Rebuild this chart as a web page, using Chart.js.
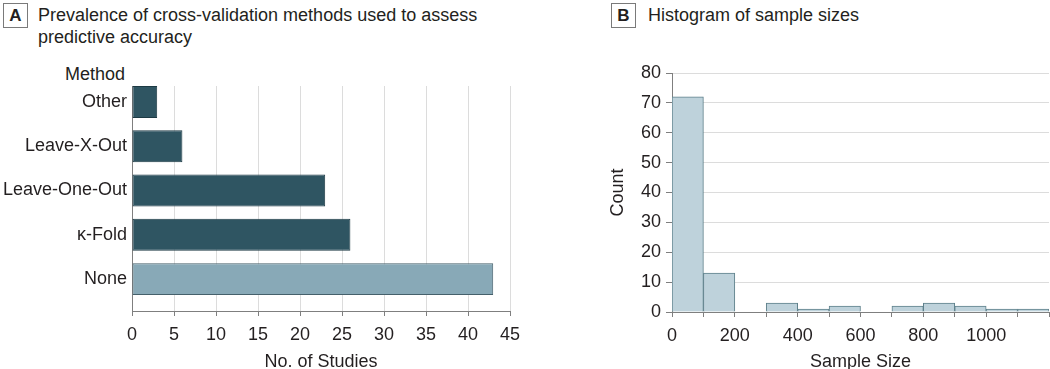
<!DOCTYPE html>
<html>
<head>
<meta charset="utf-8">
<script src="https://cdn.jsdelivr.net/npm/chart.js@4.4.1/dist/chart.umd.min.js"></script>
<style>
  html, body { margin: 0; padding: 0; background: #fff; overflow: hidden; }
  body { width: 1050px; height: 369px; position: relative; font-family: "Liberation Sans", Arial, sans-serif; color: #231f20; }
  .box { position: absolute; top: 3px; width: 23px; height: 23px; border: 1px solid #7a7a7a; font-weight: bold; font-size: 17px; line-height: 23px; text-align: center; }
  .ttl { position: absolute; top: 4px; font-size: 18px; line-height: 22px; white-space: nowrap; }
  #methodLabel { position: absolute; left: 0; width: 125px; top: 63px; font-size: 18px; line-height: 22px; text-align: right; }
  canvas { position: absolute; top: 0; }
</style>
</head>
<body>
<div class="box" style="left:3px">A</div>
<div class="ttl" style="left:38px">Prevalence of cross-validation methods used to assess<br>predictive accuracy</div>
<div class="box" style="left:611px">B</div>
<div class="ttl" style="left:648px">Histogram of sample sizes</div>
<div id="methodLabel">Method</div>

<canvas id="methodChart" width="530" height="376" style="left:0"></canvas>
<canvas id="sizeChart" width="520" height="376" style="left:530px"></canvas>

<script>
// panel A: cross-validation method (bottom to top)
const methods = ['None', 'κ-Fold', 'Leave-One-Out', 'Leave-X-Out', 'Other'];
const studies = [43, 26, 23, 6, 3];

// panel B: histogram of sample sizes, bins of 100
const binStart = [0, 100, 200, 300, 400, 500, 600, 700, 800, 900, 1000, 1100];
const binCount = [72, 13, 0, 3, 1, 2, 0, 2, 3, 2, 1, 1];
const binWidth = 100;

const CANVAS_H = 376;
const axisGrey = '#7f7f7f';
const gridGrey = '#dcdcdc';

Chart.defaults.font.family = '"Liberation Sans", Arial, sans-serif';
Chart.defaults.font.size = 18;
Chart.defaults.color = '#231f20';

// stop the x axes from reserving extra room for their end labels
const noSidePadding = s => { s.paddingLeft = 0; s.paddingRight = 0; };

new Chart('methodChart', {
  type: 'bar',
  data: {
    datasets: [{
      data: studies.map((v, i) => ({ x: v, y: i })),
      backgroundColor: methods.map(m => m === 'None' ? '#88a9b7' : '#2f5562'),
      borderColor: methods.map(m => m === 'None' ? '#45606b' : '#1d3a44'),
      borderWidth: 1,
      borderSkipped: false,
      barPercentage: 0.9,
      categoryPercentage: 0.8
    }]
  },
  options: {
    indexAxis: 'y',
    responsive: false,
    animation: false,
    layout: { padding: { top: 86, right: 20, left: 0, bottom: 0 } },
    plugins: { legend: { display: false }, tooltip: { enabled: false } },
    scales: {
      x: {
        type: 'linear',
        min: 0,
        max: 45,
        ticks: { stepSize: 5, padding: 8 },
        grid: { color: gridGrey, tickColor: axisGrey, tickLength: 5 },
        border: { color: axisGrey },
        title: { display: true, text: 'No. of Studies', font: { lineHeight: 1.2 }, padding: { top: 0, bottom: 3.5 } },
        afterFit: s => { s.height = CANVAS_H - 311; }
      },
      y: {
        type: 'linear',
        offset: false,
        min: -0.72,
        max: 4.36,
        afterBuildTicks: s => { s.ticks = methods.map((m, i) => ({ value: i })); },
        ticks: { autoSkip: false, padding: 5, callback: v => methods[v] ?? '' },
        grid: { display: false, drawTicks: false, offset: false },
        border: { display: true, color: axisGrey },
        afterFit: s => { s.width = 132; }
      }
    }
  }
});

new Chart('sizeChart', {
  type: 'bar',
  data: {
    datasets: [{
      data: binStart.map((s, i) => ({ x: s + binWidth / 2, y: binCount[i] })),
      backgroundColor: '#bed2db',
      borderColor: '#5e808b',
      borderWidth: 1,
      barPercentage: 1,
      categoryPercentage: 1
    }]
  },
  options: {
    responsive: false,
    animation: false,
    layout: { padding: { top: 73, right: 1, left: 0, bottom: 0 } },
    plugins: { legend: { display: false }, tooltip: { enabled: false } },
    scales: {
      x: {
        type: 'linear',
        offset: false,
        min: 0,
        max: 1200,
        ticks: {
          stepSize: 100, padding: 8, autoSkip: false, maxRotation: 0,
          callback: v => (v % 200 === 0 && v < 1200) ? String(v) : ''
        },
        grid: { drawOnChartArea: false, offset: false, tickColor: axisGrey, tickLength: 5 },
        border: { color: axisGrey },
        title: { display: true, text: 'Sample Size', font: { lineHeight: 1.2 }, padding: { top: 0, bottom: 3.5 } },
        afterFit: s => { s.height = CANVAS_H - 312; noSidePadding(s); }
      },
      y: {
        min: 0,
        max: 80,
        ticks: { stepSize: 10, padding: 5 },
        grid: { color: gridGrey, tickColor: axisGrey, tickLength: 6 },
        border: { color: axisGrey },
        title: { display: true, text: 'Count', font: { lineHeight: 1.2 }, padding: { top: 77, bottom: 0 } },
        afterFit: s => { s.width = 142; }
      }
    }
  }
});
</script>
</body>
</html>
